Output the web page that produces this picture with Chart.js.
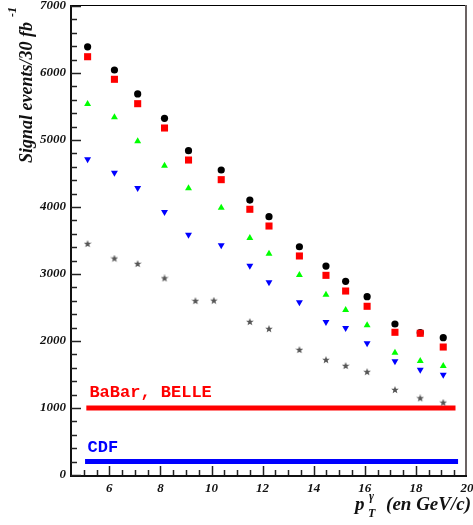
<!DOCTYPE html>
<html lang="en">
<head>
<meta charset="UTF-8">
<title>Signal events vs pT</title>
<script src="https://cdn.jsdelivr.net/npm/chart.js@4.4.0/dist/chart.umd.min.js"></script>
<style>
    html, body { margin: 0; padding: 0; background: #fff; }
</style>
</head>
<body>
<canvas id="signal" width="473" height="525"></canvas>
<script>
// pT du photon (GeV/c)
const ptMain = [5.15, 6.2, 7.11, 8.16, 9.1, 10.38, 11.5, 12.25, 13.44, 14.48, 15.25, 16.09, 17.18, 18.17, 19.07];
const ptStar = [5.15, 6.2, 7.11, 8.16, 9.37, 10.09, 11.5, 12.25, 13.44, 14.48, 15.25, 16.09, 17.18, 18.17, 19.07];

// nombre d'evenements signal / 30 fb-1
const circles = [6390, 6045, 5687, 5324, 4840, 4552, 4104, 3855, 3407, 3119, 2891, 2661, 2254, 2125, 2050];
const squares = [6243, 5906, 5542, 5179, 4701, 4408, 3966, 3716, 3269, 2980, 2746, 2518, 2130, 2115, 1910];
const upTri   = [5537, 5339, 4980, 4617, 4279, 3990, 3537, 3302, 2985, 2691, 2463, 2234, 1826, 1701, 1627];
const downTri = [4712, 4512, 4284, 3925, 3587, 3430, 3124, 2876, 2578, 2284, 2194, 1966, 1697, 1572, 1497];
const stars   = [3448, 3230, 3150, 2935, 2597, 2601, 2284, 2179, 1866, 1716, 1627, 1537, 1269, 1145, 1079];

// niveaux des experiences
const babarLevel = 1000, babarRange = [5.1, 19.55];
const cdfLevel = 200, cdfRange = [5.05, 19.65];
const expNames = ['BaBar, BELLE', 'CDF'];

// ticks
const yTickStep = 1000, yMinorStep = 200;
const xTickStep = 2, xMinorStep = 0.5;

function pts(xs, ys) {
    return xs.map((x, i) => ({ x: x, y: ys[i] }));
}

// petite etoile pleine pour le pointStyle
function makeStar(size, color) {
    const c = document.createElement('canvas');
    c.width = size; c.height = size;
    const g = c.getContext('2d');
    const cx = size / 2, cy = size / 2, R = size / 2, r = R * 0.42;
    g.beginPath();
    for (let k = 0; k < 10; k++) {
        const rad = (k % 2 ? r : R);
        const a = -Math.PI / 2 + k * Math.PI / 5;
        g.lineTo(cx + rad * Math.cos(a), cy + rad * Math.sin(a));
    }
    g.closePath();
    g.fillStyle = color;
    g.fill();
    return c;
}
const starImg = makeStar(8, '#555');

const SERIF = '"Liberation Serif", "DejaVu Serif", serif';
const MONO = '"Liberation Mono", "DejaVu Sans Mono", monospace';

// axes, ticks et textes facon ROOT
const decor = {
    id: 'decor',
    afterDraw(chart) {
        const { ctx, chartArea: a, scales: { x, y } } = chart;
        ctx.save();

        // cadre
        ctx.strokeStyle = '#000';
        ctx.lineWidth = 1;
        ctx.beginPath();
        ctx.moveTo(a.left, a.top - 0.5);
        ctx.lineTo(a.right, a.top - 0.5);
        ctx.stroke();
        ctx.strokeStyle = '#6b6363';
        ctx.lineWidth = 2;
        ctx.beginPath();
        ctx.moveTo(a.right - 1, a.top - 1);
        ctx.lineTo(a.right - 1, a.bottom);
        ctx.stroke();

        // axes
        ctx.strokeStyle = '#111';
        ctx.lineWidth = 2;
        ctx.beginPath();
        ctx.moveTo(a.left, a.top - 1);
        ctx.lineTo(a.left, a.bottom + 1);
        ctx.lineTo(a.right, a.bottom + 1);
        ctx.stroke();

        // ticks y (vers l'interieur)
        ctx.lineWidth = 1.5;
        ctx.strokeStyle = '#222';
        for (let v = 0; v <= y.max; v += yMinorStep) {
            const py = Math.round(y.getPixelForValue(v)) + 0.5;
            const len = v % yTickStep === 0 ? 10 : 6;
            ctx.beginPath();
            ctx.moveTo(a.left, py);
            ctx.lineTo(a.left + len, py);
            ctx.stroke();
        }
        // ticks x
        for (let v = 5; v < x.max; v += xMinorStep) {
            const px = Math.round(x.getPixelForValue(v)) + 0.5;
            const len = v % xTickStep === 0 ? 9 : 5;
            ctx.beginPath();
            ctx.moveTo(px, a.bottom);
            ctx.lineTo(px, a.bottom - len);
            ctx.stroke();
        }

        // labels des experiences
        ctx.font = 'bold 17px ' + MONO;
        ctx.textBaseline = 'alphabetic';
        ctx.textAlign = 'left';
        ctx.fillStyle = '#ff0000';
        ctx.fillText(expNames[0], x.getPixelForValue(5.22), y.getPixelForValue(1164));
        ctx.fillStyle = '#0000ff';
        ctx.fillText(expNames[1], x.getPixelForValue(5.15), y.getPixelForValue(343));

        // titre axe x : p_T^gamma (en GeV/c)
        ctx.fillStyle = '#111';
        ctx.font = 'bold italic 19px ' + SERIF;
        ctx.textAlign = 'right';
        ctx.fillText('(en GeV/c)', 471, 510);
        ctx.textAlign = 'left';
        ctx.fillText('p', 355, 510);
        ctx.font = 'bold italic 12px ' + SERIF;
        ctx.fillText('\u03b3', 369, 500);
        ctx.fillText('T', 368, 517);

        // titre axe y : Signal events/30 fb^-1
        ctx.translate(32, 163);
        ctx.rotate(-Math.PI / 2);
        ctx.font = 'bold italic 18px ' + SERIF;
        ctx.fillText('Signal events/30 fb', 0, 0);
        const w = ctx.measureText('Signal events/30 fb').width;
        ctx.font = 'bold italic 12px ' + SERIF;
        ctx.fillText('-1', w + 5, -16);

        ctx.restore();
    }
};

const tickFont = { family: SERIF, size: 13, style: 'italic', weight: 'bold' };

new Chart(document.getElementById('signal'), {
    type: 'scatter',
    data: {
        datasets: [
            {
                data: pts(ptMain, squares),
                pointStyle: 'rect', pointRadius: 5, borderWidth: 0,
                backgroundColor: '#ff0000', order: 1
            },
            {
                data: pts(ptMain, circles),
                pointStyle: 'circle', pointRadius: 3.6, borderWidth: 0,
                backgroundColor: '#000000', order: 2
            },
            {
                data: pts(ptMain, upTri),
                pointStyle: 'triangle', pointRadius: 4, borderWidth: 0,
                backgroundColor: '#00ff00', order: 3
            },
            {
                data: pts(ptMain, downTri),
                pointStyle: 'triangle', rotation: 180, pointRadius: 4, borderWidth: 0,
                backgroundColor: '#0000ff', order: 4
            },
            {
                data: pts(ptStar, stars),
                pointStyle: starImg, pointRadius: 4,
                order: 5
            },
            {
                data: babarRange.map(v => ({ x: v, y: babarLevel })),
                showLine: true, pointRadius: 0, borderWidth: 5,
                borderColor: '#ff0000', borderCapStyle: 'butt', order: 10
            },
            {
                data: cdfRange.map(v => ({ x: v, y: cdfLevel })),
                showLine: true, pointRadius: 0, borderWidth: 5,
                borderColor: '#0000ff', borderCapStyle: 'butt', order: 11
            }
        ]
    },
    options: {
        responsive: false,
        animation: false,
        devicePixelRatio: 1,
        layout: { padding: { top: 6, right: 6, left: 0, bottom: 0 } },
        plugins: {
            legend: { display: false },
            tooltip: { enabled: false }
        },
        scales: {
            x: {
                type: 'linear',
                min: 4.5,
                max: 20,
                grid: { display: false, drawTicks: false },
                border: { display: false },
                ticks: {
                    stepSize: xTickStep,
                    includeBounds: false,
                    padding: 6,
                    color: '#111',
                    font: tickFont,
                    maxRotation: 0
                },
                afterFit: s => { s.height = 50; s.paddingLeft = 0; s.paddingRight = 0; }
            },
            y: {
                type: 'linear',
                min: 0,
                max: 7000,
                grid: { display: false, drawTicks: false },
                border: { display: false },
                ticks: {
                    stepSize: yTickStep,
                    padding: 5,
                    color: '#111',
                    font: tickFont,
                    callback: v => String(v)
                },
                afterFit: s => { s.width = 71; s.paddingTop = 0; s.paddingBottom = 0; }
            }
        }
    },
    plugins: [decor]
});
</script>
</body>
</html>
